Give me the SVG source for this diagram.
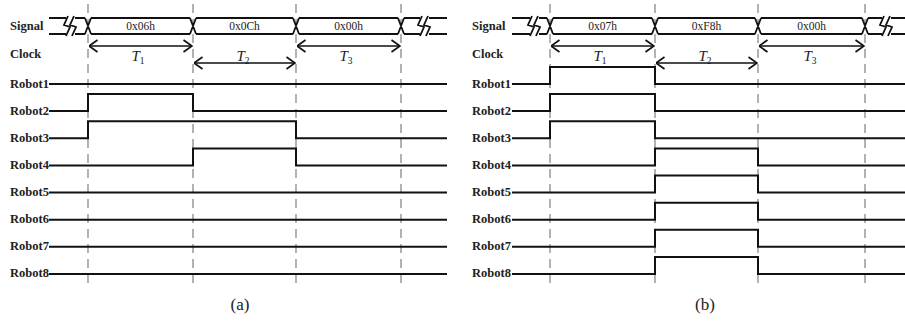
<svg xmlns="http://www.w3.org/2000/svg" width="905" height="322" viewBox="0 0 905 322">
<style>
.bg{fill:#fff}
.lbl{font-family:"Liberation Serif","Times New Roman",serif;font-weight:bold;font-size:12.5px;fill:#222}
.val{font-family:"Liberation Serif","Times New Roman",serif;font-size:11.5px;fill:#222;text-anchor:middle}
.tl{font-family:"Liberation Serif","Times New Roman",serif;font-style:italic;font-size:15px;fill:#222;text-anchor:middle}
.cap{font-family:"Liberation Serif","Times New Roman",serif;font-size:17px;fill:#222;text-anchor:middle}
.dash{stroke:#8a8a8a;stroke-width:1.3;stroke-dasharray:9 6;fill:none}
.bus{stroke:#111;stroke-width:1.8;fill:none}
.wave{stroke:#111;stroke-width:2;fill:none}
.arr{stroke:#111;stroke-width:1.6;fill:none;marker-start:url(#ah);marker-end:url(#ah)}
</style>
<defs>
<marker id="ah" markerUnits="userSpaceOnUse" viewBox="0 0 10 14" refX="9.5" refY="7" markerWidth="10" markerHeight="14" orient="auto-start-reverse">
<path d="M1,1 L9.5,7 L1,13" fill="none" stroke="#111" stroke-width="1.7"/>
</marker>
</defs>
<rect class="bg" x="0" y="0" width="905" height="322"/>

<!-- Panel (a) -->
<g id="panel-a-grid">
<path class="dash" d="M88,4V289 M193,4V289 M296,4V289 M401,4V289"/>
</g>
<g id="a-signal">
<text class="lbl" x="10" y="30">Signal</text>
<path class="bus" d="M49,18H66 M49,34H66 M75,18H85 M75,34H85 M85,18L91,34 M85,34L91,18 M91,18H190 M91,34H190 M190,18L196,34 M190,34L196,18 M196,18H293 M196,34H293 M293,18L299,34 M293,34L299,18 M299,18H398 M299,34H398 M398,18L404,34 M398,34L404,18 M404,18H420 M404,34H420 M429,18H447 M429,34H447"/>
<path class="bus" d="M68,16L64,25L70,27L66,36 M74,16L70,25L76,27L72,36 M422,16L418,25L424,27L420,36 M428,16L424,25L430,27L426,36"/>
<text class="val" x="140.5" y="30">0x06h</text>
<text class="val" x="244.5" y="30">0x0Ch</text>
<text class="val" x="348.5" y="30">0x00h</text>
</g>
<g id="a-clock">
<text class="lbl" x="10" y="58">Clock</text>
</g>
<g id="a-connectors">
<line class="arr" x1="89" y1="46" x2="192" y2="46"/>
<line class="arr" x1="194" y1="63" x2="295" y2="63"/>
<line class="arr" x1="297" y1="46" x2="400" y2="46"/>
</g>
<g id="a-periods">
<text class="tl" x="138" y="61">T<tspan font-style="normal" font-size="9.5" dy="3">1</tspan></text>
<text class="tl" x="243" y="61">T<tspan font-style="normal" font-size="9.5" dy="3">2</tspan></text>
<text class="tl" x="346" y="61">T<tspan font-style="normal" font-size="9.5" dy="3">3</tspan></text>
</g>
<g id="a-robot1"><text class="lbl" x="10" y="88">Robot1</text><path class="wave" d="M49,84H447"/></g>
<g id="a-robot2"><text class="lbl" x="10" y="115">Robot2</text><path class="wave" d="M49,111.1H88V94.1H193V111.1H447"/></g>
<g id="a-robot3"><text class="lbl" x="10" y="142">Robot3</text><path class="wave" d="M49,138.3H88V121.3H296V138.3H447"/></g>
<g id="a-robot4"><text class="lbl" x="10" y="169">Robot4</text><path class="wave" d="M49,165.4H193V148.4H296V165.4H447"/></g>
<g id="a-robot5"><text class="lbl" x="10" y="196">Robot5</text><path class="wave" d="M49,192.6H447"/></g>
<g id="a-robot6"><text class="lbl" x="10" y="223">Robot6</text><path class="wave" d="M49,219.7H447"/></g>
<g id="a-robot7"><text class="lbl" x="10" y="250">Robot7</text><path class="wave" d="M49,246.8H447"/></g>
<g id="a-robot8"><text class="lbl" x="10" y="277">Robot8</text><path class="wave" d="M49,274H447"/></g>
<text class="cap" x="240" y="310">(a)</text>

<!-- Panel (b) -->
<g id="panel-b-grid">
<path class="dash" d="M550,4V289 M655,4V289 M758,4V289 M865,4V289"/>
</g>
<g id="b-signal">
<text class="lbl" x="472" y="30">Signal</text>
<path class="bus" d="M512,18H530 M512,34H530 M539,18H547 M539,34H547 M547,18L553,34 M547,34L553,18 M553,18H652 M553,34H652 M652,18L658,34 M652,34L658,18 M658,18H755 M658,34H755 M755,18L761,34 M755,34L761,18 M761,18H862 M761,34H862 M862,18L868,34 M862,34L868,18 M868,18H882 M868,34H882 M891,18H905 M891,34H905"/>
<path class="bus" d="M532,16L528,25L534,27L530,36 M538,16L534,25L540,27L536,36 M884,16L880,25L886,27L882,36 M890,16L886,25L892,27L888,36"/>
<text class="val" x="602.5" y="30">0x07h</text>
<text class="val" x="706.5" y="30">0xF8h</text>
<text class="val" x="811.5" y="30">0x00h</text>
</g>
<g id="b-clock">
<text class="lbl" x="472" y="58">Clock</text>
</g>
<g id="b-connectors">
<line class="arr" x1="551" y1="46" x2="654" y2="46"/>
<line class="arr" x1="656" y1="63" x2="757" y2="63"/>
<line class="arr" x1="759" y1="46" x2="864" y2="46"/>
</g>
<g id="b-periods">
<text class="tl" x="600" y="61">T<tspan font-style="normal" font-size="9.5" dy="3">1</tspan></text>
<text class="tl" x="705" y="61">T<tspan font-style="normal" font-size="9.5" dy="3">2</tspan></text>
<text class="tl" x="810" y="61">T<tspan font-style="normal" font-size="9.5" dy="3">3</tspan></text>
</g>
<g id="b-robot1"><text class="lbl" x="472" y="88">Robot1</text><path class="wave" d="M512,84H550V67H655V84H905"/></g>
<g id="b-robot2"><text class="lbl" x="472" y="115">Robot2</text><path class="wave" d="M512,111.1H550V94.1H655V111.1H905"/></g>
<g id="b-robot3"><text class="lbl" x="472" y="142">Robot3</text><path class="wave" d="M512,138.3H550V121.3H655V138.3H905"/></g>
<g id="b-robot4"><text class="lbl" x="472" y="169">Robot4</text><path class="wave" d="M512,165.4H655V148.4H758V165.4H905"/></g>
<g id="b-robot5"><text class="lbl" x="472" y="196">Robot5</text><path class="wave" d="M512,192.6H655V175.6H758V192.6H905"/></g>
<g id="b-robot6"><text class="lbl" x="472" y="223">Robot6</text><path class="wave" d="M512,219.7H655V202.7H758V219.7H905"/></g>
<g id="b-robot7"><text class="lbl" x="472" y="250">Robot7</text><path class="wave" d="M512,246.8H655V229.8H758V246.8H905"/></g>
<g id="b-robot8"><text class="lbl" x="472" y="277">Robot8</text><path class="wave" d="M512,274H655V257H758V274H905"/></g>
<text class="cap" x="705" y="310">(b)</text>
</svg>
